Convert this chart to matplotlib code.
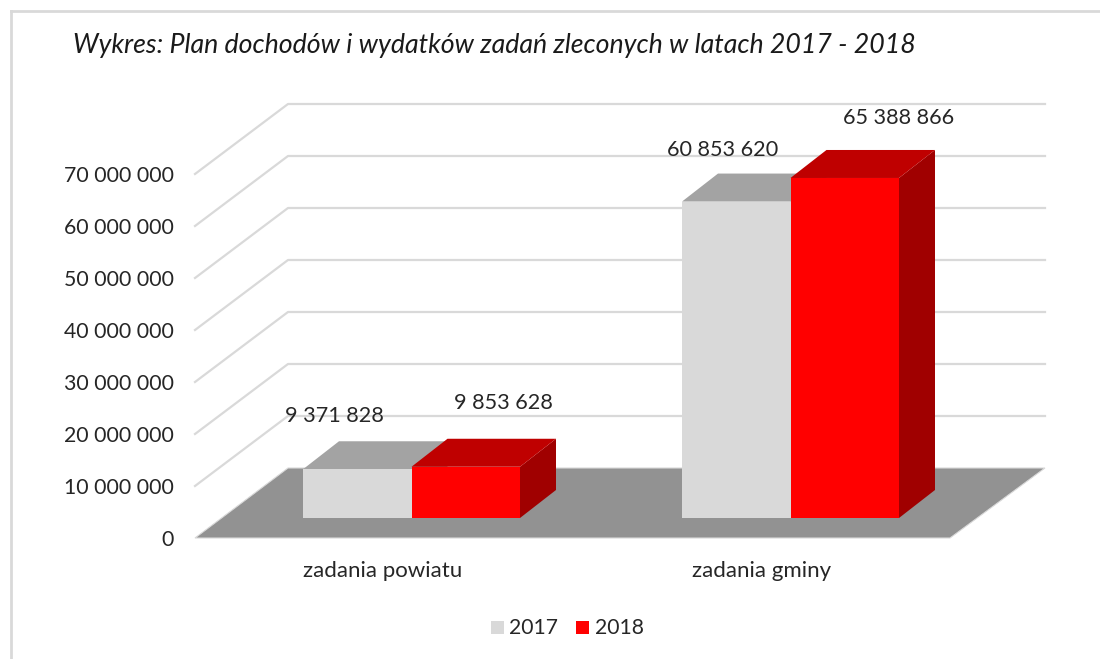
import matplotlib
matplotlib.use('Agg')
import matplotlib.pyplot as plt
from matplotlib.patches import Polygon, Rectangle

plt.rcParams['font.family'] = ['Lato', 'DejaVu Sans']

categories = ['zadania powiatu', 'zadania gminy']
values_2017 = [9371828, 60853620]
values_2018 = [9853628, 65388866]
labels_2017 = ['9 371 828', '60 853 620']
labels_2018 = ['9 853 628', '65 388 866']
ticks = [0, 10000000, 20000000, 30000000, 40000000, 50000000, 60000000, 70000000]
tick_labels = ['0', '10 000 000', '20 000 000', '30 000 000', '40 000 000',
               '50 000 000', '60 000 000', '70 000 000']
title = 'Wykres: Plan dochodów i wydatków zadań zleconych w latach 2017 - 2018'

W, H = 1100, 659
PX = 52 / 1e7      # pixels per unit of value
Y0 = 538           # pixel row of value 0 at the front edge

def dy(px):
    return px / PX

fig = plt.figure(figsize=(W / 100, H / 100), dpi=100)
ax = fig.add_axes([0, 0, 1, 1])
ax.set_xlim(0, W)
ax.set_ylim((Y0 - H) / PX, Y0 / PX)
ax.axis('off')

# outer frame of the pasted chart
frame = '#d9d9d9'
ax.plot([11, 11], [ax.get_ylim()[0], dy(Y0 - 11)], color=frame, lw=2)
ax.plot([11, W], [dy(Y0 - 11), dy(Y0 - 11)], color=frame, lw=2)

# walls
wall_x = [195, 288, 1045]
wall_depth = dy(70)
for t in ticks[1:]:
    ax.plot(wall_x, [t, t + wall_depth, t + wall_depth], color='#d9d9d9', lw=1.6, zorder=1)

# floor
ax.add_patch(Polygon([(195, 0), (950, 0), (1045, wall_depth), (288, wall_depth)],
                     facecolor='#929292', edgecolor='#d9d9d9', lw=0.8, zorder=2))

bar_w = 108.5
bar_dx = 36
bar_dy = dy(28)
bar_base = dy(20)
group_x = [303, 682]

def bar(x, v, front, top, side):
    y0 = bar_base
    y1 = bar_base + v
    ax.add_patch(Polygon([(x + bar_w, y0), (x + bar_w + bar_dx, y0 + bar_dy),
                          (x + bar_w + bar_dx, y1 + bar_dy), (x + bar_w, y1)],
                         facecolor=side, edgecolor='none', zorder=3))
    ax.add_patch(Polygon([(x, y1), (x + bar_dx, y1 + bar_dy),
                          (x + bar_w + bar_dx, y1 + bar_dy), (x + bar_w, y1)],
                         facecolor=top, edgecolor='none', zorder=3))
    ax.add_patch(Rectangle((x, y0), bar_w, v, facecolor=front, edgecolor='none', zorder=4))

for i in range(len(categories)):
    bar(group_x[i], values_2017[i], '#d9d9d9', '#a3a3a3', '#a3a3a3')
    bar(group_x[i] + bar_w, values_2018[i], '#ff0000', '#bf0000', '#a00000')
    ax.text(group_x[i] + bar_w - 28.5, dy(Y0 - 571), categories[i], ha='center', va='center',
            fontsize=16, color='#262626', zorder=5)

# data labels, a bit above the back edge of each bar
ax.text(334, dy(Y0 - 416), labels_2017[0], ha='center', va='center', fontsize=15.6, color='#262626', zorder=5)
ax.text(503, dy(Y0 - 403), labels_2018[0], ha='center', va='center', fontsize=15.6, color='#262626', zorder=5)
ax.text(723, dy(Y0 - 150), labels_2017[1], ha='center', va='center', fontsize=15.6, color='#262626', zorder=5)
ax.text(899, dy(Y0 - 118), labels_2018[1], ha='center', va='center', fontsize=15.6, color='#262626', zorder=5)

for t, lab in zip(ticks, tick_labels):
    ax.text(174, t - dy(2), lab, ha='right', va='center', fontsize=15.3, color='#262626')

ax.text(73, dy(Y0 - 46), title, ha='left', va='center', fontsize=19.3, style='italic', color='#1a1a1a')

# legend
ax.add_patch(Rectangle((491, dy(Y0 - 634)), 13, dy(13), facecolor='#d9d9d9', edgecolor='none'))
ax.text(509, dy(Y0 - 628), '2017', ha='left', va='center', fontsize=15.2, color='#262626')
ax.add_patch(Rectangle((576, dy(Y0 - 634)), 13, dy(13), facecolor='#ff0000', edgecolor='none'))
ax.text(595, dy(Y0 - 628), '2018', ha='left', va='center', fontsize=15.2, color='#262626')

fig.savefig('out.png', dpi=100)
